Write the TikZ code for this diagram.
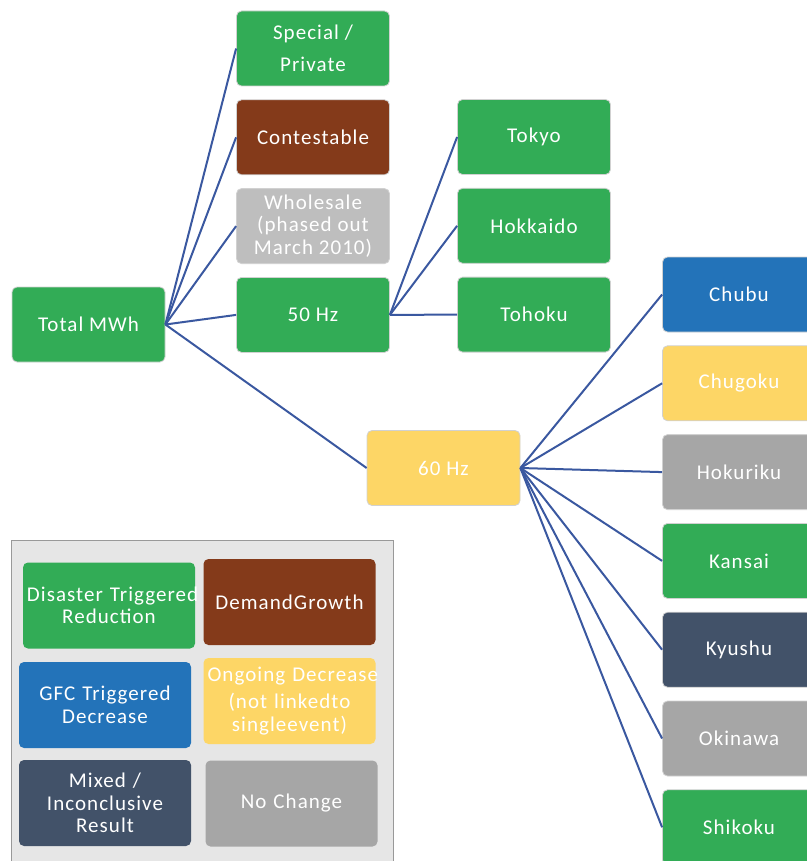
\documentclass[tikz,border=0pt]{standalone}
\usepackage{fontspec}
\setmainfont{Carlito}[LetterSpace=5]
\usetikzlibrary{positioning}

\definecolor{cgreen}{RGB}{50,172,86}
\definecolor{cbrown}{RGB}{132,58,26}
\definecolor{cpale}{RGB}{190,190,190}
\definecolor{cgray}{RGB}{166,166,166}
\definecolor{cblue}{RGB}{35,115,185}
\definecolor{cyellow}{RGB}{253,214,102}
\definecolor{cslate}{RGB}{66,82,105}
\definecolor{clink}{RGB}{58,88,160}
\definecolor{legendbg}{RGB}{230,230,230}

\begin{document}
\begin{tikzpicture}[
    x=1pt, y=-1pt,
    node distance=13pt,
    box/.style={rectangle, draw=black!18, line width=0.8pt, rounded corners=5pt, text=white,
        minimum width=153pt, minimum height=75pt, align=center, inner sep=2pt,
        font=\fontsize{21}{22.5}\selectfont},
    key/.style={box, text width=164pt, inner sep=4pt, minimum height=86pt, draw=none},
    link/.style={draw=clink, line width=2pt}
]
    \useasboundingbox (0,0) rectangle (806,861);

    % tree
    \node[box, fill=cgreen] (total) at (88.5,324.5) {Total MWh};

    \node[box, fill=cgreen] (special) at (313,48.5) {Special /\\[9pt]Private};
    \node[box, fill=cbrown, below=of special] (contestable) {Contestable};
    \node[box, fill=cpale, below=of contestable] (wholesale) {Wholesale\\(phased out\\March 2010)};
    \node[box, fill=cgreen, below=of wholesale] (hz50) {50 Hz};
    \node[box, fill=cyellow] (hz60) at (443.5,468) {60 Hz};

    \node[box, fill=cgreen] (tokyo) at (534,137) {Tokyo};
    \node[box, fill=cgreen, below=of tokyo] (hokkaido) {Hokkaido};
    \node[box, fill=cgreen, below=of hokkaido] (tohoku) {Tohoku};

    \node[box, fill=cblue] (chubu) at (739,294.5) {Chubu};
    \node[box, fill=cyellow, below=of chubu] (chugoku) {Chugoku};
    \node[box, fill=cgray, below=of chugoku] (hokuriku) {Hokuriku};
    \node[box, fill=cgreen, below=of hokuriku] (kansai) {Kansai};
    \node[box, fill=cslate, below=of kansai] (kyushu) {Kyushu};
    \node[box, fill=cgray, below=of kyushu] (okinawa) {Okinawa};
    \node[box, fill=cgreen, below=of okinawa] (shikoku) {Shikoku};

    \foreach \n in {special,contestable,wholesale,hz50,hz60}
        \draw[link] (total.east) -- (\n.west);
    \foreach \n in {tokyo,hokkaido,tohoku}
        \draw[link] (hz50.east) -- (\n.west);
    \foreach \n in {chubu,chugoku,hokuriku,kansai,kyushu,okinawa,shikoku}
        \draw[link] (hz60.east) -- (\n.west);

    % legend
    \fill[legendbg, draw=black!40, line width=1pt] (11,540) rectangle (393,875);
    \node[key, fill=cgreen] (disaster) at (109,605.5) {\mbox{Disaster Triggered}\\Reduction};
    \node[key, fill=cbrown] (demand) at (289.5,602) {DemandGrowth};
    \node[key, fill=cblue] (gfc) at (105,705) {GFC Triggered\\Decrease};
    \node[key, fill=cyellow] (ongoing) at (289.5,701) {\mbox{Ongoing Decrease}\\[5pt](not linkedto\\singleevent)};
    \node[key, fill=cslate] (mixed) at (105,803) {Mixed /\\Inconclusive\\Result};
    \node[key, fill=cgray] (nochange) at (291.5,803.5) {No Change};
\end{tikzpicture}
\end{document}
